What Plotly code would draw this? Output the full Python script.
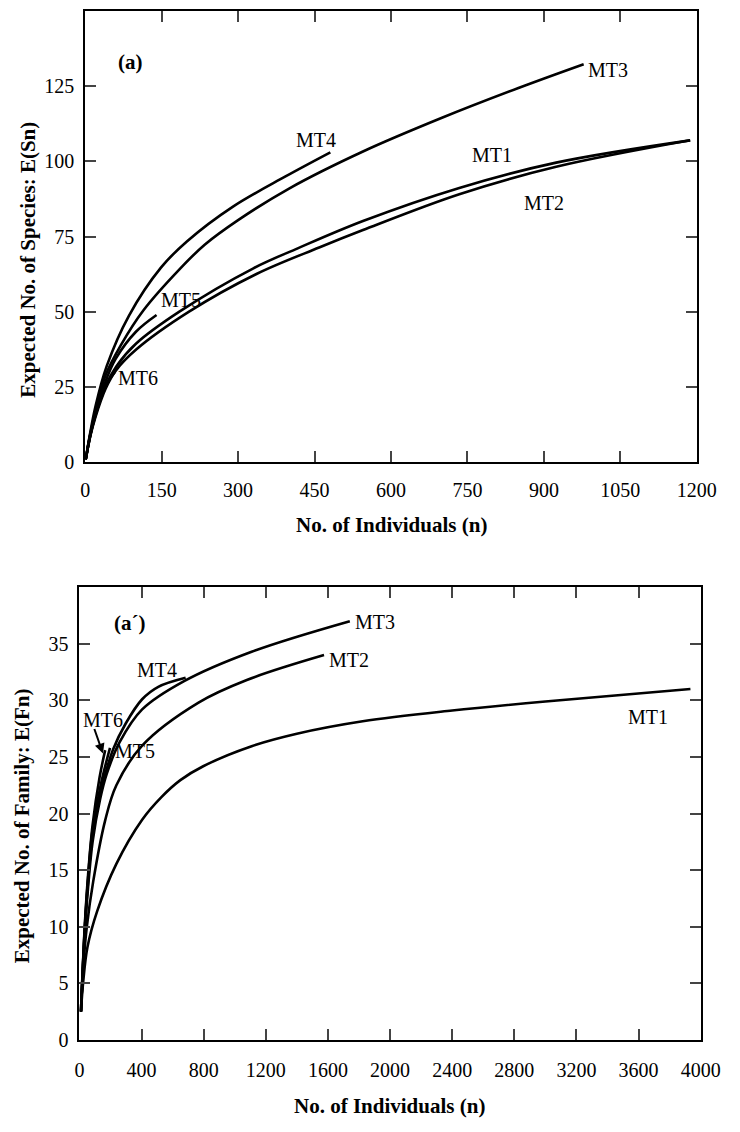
import plotly.graph_objects as go

FONT = "Liberation Serif"

# ---- Panel (a): expected number of species E(Sn) vs. number of individuals
sp_mt1_n = [1, 10, 20, 40, 61, 100, 184, 330, 418, 545, 734, 924, 1187]
sp_mt1_e = [1, 9, 15.5, 25.5, 31.9, 39.5, 50, 64.5, 71.2, 80.2, 91.2, 99.6, 107]
sp_mt2_n = [1, 10, 20, 40, 60, 100, 203, 336, 459, 545, 734, 924, 1187]
sp_mt2_e = [1, 8.7, 15, 24.5, 30.5, 37.5, 50, 62.6, 71.4, 77.2, 89.1, 98.2, 107]
sp_mt3_n = [1, 10, 20, 40, 70, 114, 184, 235, 300, 400, 545, 700, 850, 978]
sp_mt3_e = [1, 9.5, 17, 29, 39, 50.5, 64, 72.4, 80.5, 91, 103.3, 114.5, 124.4, 132.3]
sp_mt4_n = [1, 10, 20, 42, 86, 149, 200, 290, 393, 481]
sp_mt4_e = [1, 10, 18.5, 31.9, 48.8, 64.8, 73.5, 85, 95, 103]
sp_mt5_n = [1, 10, 20, 40, 60, 100, 140]
sp_mt5_e = [1, 9.2, 16, 27, 34.5, 43.5, 49]
sp_mt6_n = [1, 10, 20, 40, 58]
sp_mt6_e = [1, 9, 15.7, 25.5, 30]

# ---- Panel (a'): expected number of families E(Fn) vs. number of individuals
fam_mt1_n = [10, 25, 52, 114, 238, 404, 528, 650, 800, 1109, 1400, 1824, 2400, 3000, 3934]
fam_mt1_e = [2.5, 5.2, 8.2, 11.35, 15.55, 19.45, 21.45, 22.95, 24.2, 25.95, 27.05, 28.15, 29.1, 29.9, 31.0]
fam_mt2_n = [10, 25, 47, 89, 166, 238, 404, 767, 1078, 1575]
fam_mt2_e = [2.5, 6.5, 9.9, 14, 19.4, 22.5, 26.0, 29.8, 31.8, 34.0]
fam_mt3_n = [10, 35, 56, 85, 134, 176, 259, 404, 674, 1109, 1741]
fam_mt3_e = [2.5, 9.5, 13.5, 17.5, 21.3, 23.5, 26.3, 29.2, 31.7, 34.3, 37.0]
fam_mt4_n = [10, 35, 56, 85, 134, 218, 300, 404, 508, 684]
fam_mt4_e = [2.5, 10, 14.3, 18.6, 21.8, 25.7, 28.0, 30.1, 31.2, 32.0]
fam_mt5_n = [10, 35, 56, 85, 134, 197]
fam_mt5_e = [2.5, 9.8, 14, 18.2, 22.3, 25.8]
fam_mt6_n = [10, 35, 56, 85, 130, 166]
fam_mt6_e = [2.5, 10.2, 14.6, 19, 23.2, 25.6]

sp_xticks = [0, 150, 300, 450, 600, 750, 900, 1050, 1200]
sp_yticks = [0, 25, 50, 75, 100, 125]
fam_xticks = [0, 400, 800, 1200, 1600, 2000, 2400, 2800, 3200, 3600, 4000]
fam_yticks = [0, 5, 10, 15, 20, 25, 30, 35]

species = [
    ("MT1", sp_mt1_n, sp_mt1_e), ("MT2", sp_mt2_n, sp_mt2_e),
    ("MT3", sp_mt3_n, sp_mt3_e), ("MT4", sp_mt4_n, sp_mt4_e),
    ("MT5", sp_mt5_n, sp_mt5_e), ("MT6", sp_mt6_n, sp_mt6_e),
]
families = [
    ("MT1", fam_mt1_n, fam_mt1_e), ("MT2", fam_mt2_n, fam_mt2_e),
    ("MT3", fam_mt3_n, fam_mt3_e), ("MT4", fam_mt4_n, fam_mt4_e),
    ("MT5", fam_mt5_n, fam_mt5_e), ("MT6", fam_mt6_n, fam_mt6_e),
]

fig = go.Figure()
line_style = dict(color="black", width=2.6, shape="spline", smoothing=1.0)
for name, n, e in species:
    fig.add_trace(go.Scatter(x=n, y=e, mode="lines", name=name, line=line_style,
                             xaxis="x", yaxis="y", showlegend=False))
for name, n, e in families:
    fig.add_trace(go.Scatter(x=n, y=e, mode="lines", name=name, line=line_style,
                             xaxis="x2", yaxis="y2", showlegend=False))

W, H = 740, 1132


def axis(domain, rng, ticks, anchor, standoff):
    return dict(
        domain=domain, range=rng, tickvals=ticks, anchor=anchor,
        showline=True, linewidth=2, linecolor="black", mirror="ticks",
        ticks="inside", ticklen=11, tickwidth=1.5, tickcolor="#444",
        showgrid=False, zeroline=False, ticklabelstandoff=standoff,
        tickfont=dict(family=FONT, size=20, color="black"),
    )


fig.update_layout(
    width=W, height=H, margin=dict(l=0, r=0, t=0, b=0),
    paper_bgcolor="white", plot_bgcolor="white",
    font=dict(family=FONT, color="black"),
    xaxis=axis([83 / W, 716 / W], [0, 1200], sp_xticks, "y", 9),
    yaxis=axis([1 - 467 / H, 1 - 11 / H], [0, 150], sp_yticks, "x", 5),
    xaxis2=axis([77 / W, 720 / W], [0, 4000], fam_xticks, "y2", 11),
    yaxis2=axis([1 - 1050 / H, 1 - 593 / H], [0, 40], fam_yticks, "x2", 5),
)

ann = []
lab = dict(family=FONT, size=20, color="black")
bold = dict(family=FONT, size=21, color="black", weight="bold")


def text(x, y, s, xr, yr, font=lab, xanchor="center"):
    ann.append(dict(x=x, y=y, text=s, xref=xr, yref=yr, showarrow=False,
                    font=font, xanchor=xanchor, yanchor="middle"))


# curve labels, panel (a)
text(89, 133, "(a)", "x", "y", bold)
text(453, 107, "MT4", "x", "y")
text(1025, 130.3, "MT3", "x", "y")
text(798, 102, "MT1", "x", "y")
text(900, 86.2, "MT2", "x", "y")
text(188, 53.9, "MT5", "x", "y")
text(104, 28, "MT6", "x", "y")

# curve labels, panel (a')
text(320, 36.8, "(a\u00b4)", "x2", "y2", bold)
text(497, 32.7, "MT4", "x2", "y2")
text(1902, 36.9, "MT3", "x2", "y2")
text(1734, 33.6, "MT2", "x2", "y2")
text(3663, 28.5, "MT1", "x2", "y2")
text(357, 25.5, "MT5", "x2", "y2")
text(151, 28.3, "MT6", "x2", "y2")
ann.append(dict(x=152, y=25.3, ax=93, ay=27.6, xref="x2", yref="y2",
                axref="x2", ayref="y2", text="", showarrow=True,
                arrowhead=2, arrowsize=1, arrowwidth=2, arrowcolor="black"))

# axis titles
text(400 / W, 1 - 530 / H, "No. of Individuals (n)", "paper", "paper", bold)
text(398 / W, 1 - 1117 / H, "No. of Individuals (n)", "paper", "paper", bold)
for yy, xx, s in [(262, 24, "Expected No. of Species: E(Sn)"),
                  (834, 18, "Expected No. of Family: E(Fn)")]:
    ann.append(dict(x=xx / W, y=1 - yy / H, xref="paper", yref="paper",
                    text=s, showarrow=False, textangle=-90, font=bold,
                    xanchor="center", yanchor="middle"))

fig.update_layout(annotations=ann)
fig.write_html("out.html")
